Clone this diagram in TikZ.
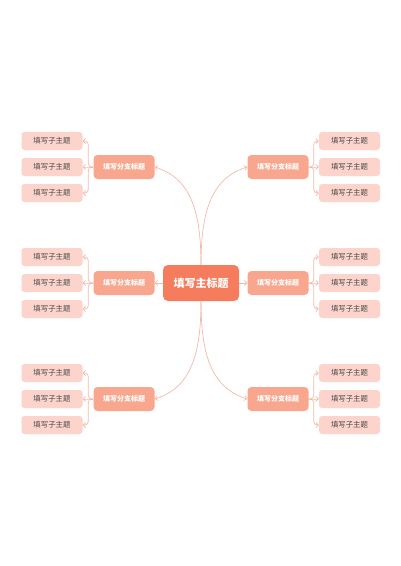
\documentclass[tikz,border=0pt]{standalone}
\usepackage{fontspec}
\setmainfont{Noto Sans CJK SC}
\usetikzlibrary{arrows.meta}
\definecolor{maincol}{RGB}{246,124,94}
\definecolor{branchcol}{RGB}{249,166,142}
\definecolor{leafcol}{RGB}{253,212,204}
\definecolor{linecol}{RGB}{244,186,170}
\definecolor{leaftext}{RGB}{70,70,70}
\tikzset{
  mainbox/.style={fill=maincol,rounded corners=5pt,minimum width=76pt,minimum height=36pt,inner sep=0pt,text=white,font=\fontsize{11}{12}\selectfont\bfseries},
  branchbox/.style={fill=branchcol,rounded corners=4pt,minimum width=61pt,minimum height=24pt,inner sep=0pt,text=white,font=\fontsize{7}{8}\selectfont\bfseries},
  leafbox/.style={fill=leafcol,rounded corners=3pt,minimum width=61pt,minimum height=18pt,inner sep=0pt,text=leaftext,font=\fontsize{7.4}{8}\selectfont},
  conn/.style={draw=linecol,line width=0.7pt,-{Straight Barb[length=2.5pt,width=5pt]}},
  leafconn/.style={conn,rounded corners=3.5pt}
}
\begin{document}
\begin{tikzpicture}[x=1pt,y=-1pt]
\useasboundingbox (0,0) rectangle (400,566);
\fill[white] (0,0) rectangle (400,566);
\node[mainbox] (c) at (201,283) {填写主标题};
% branches
\node[branchbox] (lt) at (124,167) {填写分支标题};
\node[branchbox] (lm) at (124,283) {填写分支标题};
\node[branchbox] (lb) at (124,399) {填写分支标题};
\node[branchbox] (rt) at (278,167) {填写分支标题};
\node[branchbox] (rm) at (278,283) {填写分支标题};
\node[branchbox] (rb) at (278,399) {填写分支标题};
% central connectors
\draw[conn] (c.north) .. controls (201,210) and (190,178) .. (lt.east);
\draw[conn] (c.north) .. controls (201,210) and (212,178) .. (rt.west);
\draw[conn] (c.west) -- (lm.east);
\draw[conn] (c.east) -- (rm.west);
\draw[conn] (c.south) .. controls (201,356) and (190,388) .. (lb.east);
\draw[conn] (c.south) .. controls (201,356) and (212,388) .. (rb.west);
% leaves
\foreach \b/\y in {lt/167,lm/283,lb/399}{
  \node[leafbox] (\b1) at (52,\y-26) {填写子主题};
  \node[leafbox] (\b2) at (52,\y) {填写子主题};
  \node[leafbox] (\b3) at (52,\y+26) {填写子主题};
  \coordinate (\b j) at ([xshift=-5pt]\b.west);
  \draw[leafconn] (\b.west) -- (\b j) |- (\b1.east);
  \draw[leafconn] (\b.west) -- (\b j) -- (\b2.east);
  \draw[leafconn] (\b.west) -- (\b j) |- (\b3.east);
}
\foreach \b/\y in {rt/167,rm/283,rb/399}{
  \node[leafbox] (\b1) at (349.5,\y-26) {填写子主题};
  \node[leafbox] (\b2) at (349.5,\y) {填写子主题};
  \node[leafbox] (\b3) at (349.5,\y+26) {填写子主题};
  \coordinate (\b j) at ([xshift=5pt]\b.east);
  \draw[leafconn] (\b.east) -- (\b j) |- (\b1.west);
  \draw[leafconn] (\b.east) -- (\b j) -- (\b2.west);
  \draw[leafconn] (\b.east) -- (\b j) |- (\b3.west);
}
\end{tikzpicture}
\end{document}
